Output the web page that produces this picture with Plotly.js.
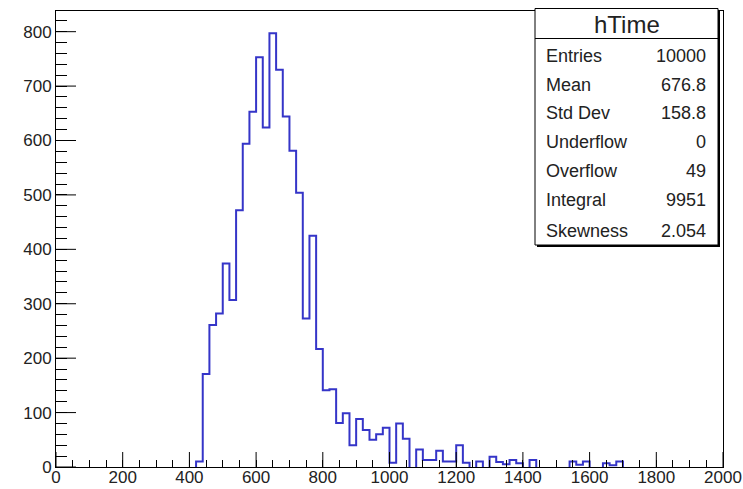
<!DOCTYPE html>
<html>
<head>
<meta charset="utf-8">
<script src="https://cdn.plot.ly/plotly-3.0.1.min.js"></script>
<style>html,body{margin:0;padding:0;background:#fff;}#chart{width:743px;height:489px;}</style>
</head>
<body>
<div id="chart"></div>
<script>
// ---- data ----
const binLow = 0;
const binWidth = 20;
const counts = [
  0,0,0,0,0,0,0,0,0,0,            // 0-200
  0,0,0,0,0,0,0,0,0,0,            // 200-400
  0,10,171,261,282,374,307,472,594,653,   // 400-600
  753,624,797,730,644,581,504,273,425,217, // 600-800
  141,143,81,99,40,88,68,50,60,72,         // 800-1000
  8,80,52,0,32,13,13,30,10,10,             // 1000-1200
  40,8,0,10,0,19,9,5,13,7,                 // 1200-1400
  0,13,0,0,0,0,0,10,4,10,                  // 1400-1600
  0,0,7,3,10,0,0,0,0,0,                    // 1600-1800
  0,0,0,0,0,0,0,0,0,0                      // 1800-2000
];
const statsTitle = "hTime";
const statsLabels = ["Entries", "Mean", "Std Dev", "Underflow", "Overflow", "Integral", "Skewness"];
const statsValues = ["10000", "676.8", "158.8", "0", "49", "9951", "2.054"];

// ---- build step outline from bins (zero runs left to the axis line) ----
const xs = [];
const ys = [];
const N = counts.length;
const edge = k => binLow + k * binWidth;
for (let k = 0; k < N; k++) {
  if (counts[k] > 0) {
    if (k === 0 || counts[k - 1] === 0) { xs.push(edge(k)); ys.push(0); }
    xs.push(edge(k)); ys.push(counts[k]);
    if (k === N - 1 || counts[k + 1] === 0) {
      xs.push(edge(k + 1)); ys.push(0);
      xs.push(null); ys.push(null);
    }
  }
}

// ---- geometry helpers (pixel -> paper) ----
const L = 56, R = 723, T = 11, B = 467;
const W = 743, H = 489;
const px = p => (p - L) / (R - L);
const py = p => (B - p) / (B - T);

const font = "Liberation Sans, Arial, Helvetica, sans-serif";
const txtCol = "#222";

const X_RANGE = [0, 2000];
const Y_RANGE = [0, 838];
const X_MAJOR = 200, Y_MAJOR = 100;
const tickfont = {family: font, size: 17, color: txtCol};

const shapes = [];
// major ticks, drawn inward from the axes at axis values
const xMajLen = 15 / (B - T), yMajLen = 20 / (R - L);
for (let v = X_RANGE[0]; v <= X_RANGE[1]; v += X_MAJOR) {
  shapes.push({type: "line", xref: "x", yref: "paper", x0: v, x1: v, y0: 0, y1: xMajLen,
    line: {color: "#000", width: 1}, layer: "above"});
}
for (let v = Y_RANGE[0]; v <= Y_RANGE[1]; v += Y_MAJOR) {
  shapes.push({type: "line", xref: "paper", yref: "y", y0: v, y1: v, x0: 0, x1: yMajLen,
    line: {color: "#000", width: 1}, layer: "above"});
}
// stats box
shapes.push(
  {type: "rect", xref: "paper", yref: "paper", x0: px(537), x1: px(720), y0: py(247), y1: py(10.5),
   fillcolor: "#000", line: {width: 0}, layer: "above"},
  {type: "rect", xref: "paper", yref: "paper", x0: px(535), x1: px(718), y0: py(245), y1: py(8.5),
   fillcolor: "#fff", line: {color: "#000", width: 1}, layer: "above"},
  {type: "line", xref: "paper", yref: "paper", x0: px(535), x1: px(718), y0: py(38.5), y1: py(38.5),
   line: {color: "#000", width: 1}, layer: "above"}
);

const rowY = [55.5, 84.5, 113.5, 142, 171, 200, 231];
const annotations = [
  {xref: "paper", yref: "paper", x: px(626.5), y: py(24), text: statsTitle, showarrow: false,
   xanchor: "center", yanchor: "middle", font: {family: font, size: 24, color: txtCol}}
];
statsLabels.forEach((lab, i) => {
  annotations.push({xref: "paper", yref: "paper", x: px(544), y: py(rowY[i]), text: lab, showarrow: false,
    xanchor: "left", yanchor: "middle", font: {family: font, size: 18, color: txtCol}});
  annotations.push({xref: "paper", yref: "paper", x: px(708), y: py(rowY[i]), text: statsValues[i], showarrow: false,
    xanchor: "right", yanchor: "middle", font: {family: font, size: 18, color: txtCol}});
});

const trace = {
  type: "scatter", mode: "lines", x: xs, y: ys, connectgaps: false,
  line: {shape: "hv", color: "#3535c8", width: 2},
  hoverinfo: "skip"
};
const ghost = (xa, ya) => ({type: "scatter", mode: "lines", x: X_RANGE, y: [0, 0], xaxis: xa, yaxis: ya,
  line: {width: 0, color: "rgba(0,0,0,0)"}, hoverinfo: "skip"});

const tickAxis = (extra) => Object.assign({
  tickwidth: 1, tickcolor: "#000", showticklabels: false, tickmode: "linear", tick0: 0,
  showline: false, showgrid: false, zeroline: false, automargin: false, fixedrange: true
}, extra);

const layout = {
  width: W, height: H,
  margin: {l: L, r: W - R, t: T, b: H - B, pad: 0},
  paper_bgcolor: "#fff", plot_bgcolor: "#fff",
  showlegend: false,
  xaxis: {
    range: X_RANGE, tickmode: "linear", tick0: 0, dtick: X_MAJOR, ticks: "", showticklabels: false,
    showline: true, linecolor: "#000", linewidth: 1, mirror: true, showgrid: false, zeroline: false,
    automargin: false, fixedrange: true
  },
  yaxis: {
    range: Y_RANGE, tickmode: "linear", tick0: 0, dtick: Y_MAJOR, ticks: "",
    showline: true, linecolor: "#000", linewidth: 1, mirror: true, showgrid: false, zeroline: false,
    tickfont: tickfont, automargin: false, fixedrange: true
  },
  // minor ticks (inside)
  xaxis2: tickAxis({overlaying: "x", anchor: "y2", side: "bottom", range: X_RANGE, dtick: 50, ticks: "inside", ticklen: 7.5}),
  yaxis2: tickAxis({overlaying: "y", anchor: "x2", side: "left", range: Y_RANGE, dtick: 20, ticks: "inside", ticklen: 11}),
  // x tick labels, placed slightly up
  xaxis4: {
    overlaying: "x", anchor: "free", position: 2 / (B - T), side: "bottom", range: X_RANGE,
    tickmode: "linear", tick0: 0, dtick: X_MAJOR, ticks: "", showticklabels: true, tickfont: tickfont,
    showline: false, showgrid: false, zeroline: false, automargin: false, fixedrange: true
  },
  yaxis4: tickAxis({overlaying: "y", anchor: "x4", side: "left", range: Y_RANGE, dtick: Y_MAJOR, ticks: ""}),
  shapes: shapes,
  annotations: annotations
};

Plotly.newPlot("chart", [trace, ghost("x2", "y2"), ghost("x4", "y4")], layout,
  {staticPlot: true, displayModeBar: false});
</script>
</body>
</html>
